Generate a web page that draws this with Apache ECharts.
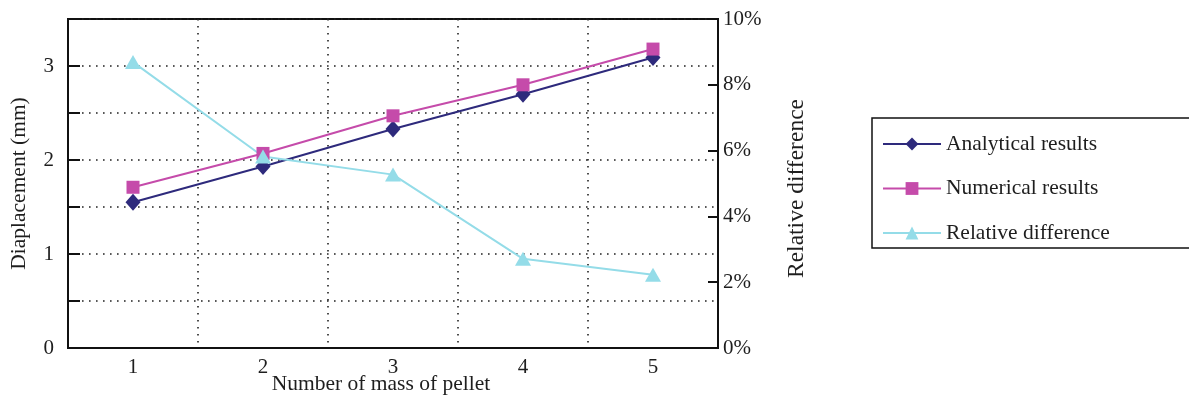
<!DOCTYPE html>
<html>
<head>
<meta charset="utf-8">
<script src="https://cdn.jsdelivr.net/npm/echarts@6/dist/echarts.min.js"></script>
<style>
  html, body { margin: 0; padding: 0; background: #fff; }
  #chart { width: 1189px; height: 398px; }
</style>
</head>
<body>
<div id="chart"></div>
<script>
// Pellet mass count vs. displacement, with relative difference on the right axis
const categories = ['1', '2', '3', '4', '5'];
const analytical = [1.55, 1.93, 2.33, 2.70, 3.09];
const numerical = [1.71, 2.07, 2.47, 2.80, 3.18];
const relativeDiff = [0.0869, 0.0582, 0.0527, 0.0271, 0.0223];

const FONT = 'Liberation Serif';
const INK = '#1e1e1e';
const dotted = { color: '#222', width: 1.6, type: [1.6, 5.4] };

const chart = echarts.init(document.getElementById('chart'));
chart.setOption({
  animation: false,
  textStyle: { fontFamily: FONT },
  grid: {
    left: 68, right: 471, top: 19, bottom: 50,
    outerBoundsMode: 'none',
    containLabel: false,
    show: true, borderColor: '#111', borderWidth: 2, backgroundColor: 'transparent'
  },
  legend: {
    orient: 'vertical',
    left: 872, top: 118,
    padding: [15, 81, 4, 10],
    borderColor: '#111', borderWidth: 1.5,
    itemWidth: 58, itemHeight: 16, itemGap: 22.5,
    textStyle: { fontFamily: FONT, fontSize: 21.5, color: INK },
    data: ['Analytical results', 'Numerical results', 'Relative difference']
  },
  xAxis: {
    type: 'category',
    data: categories,
    boundaryGap: true,
    name: 'Number of mass of pellet',
    nameLocation: 'middle',
    nameGap: 25,
    nameMoveOverlap: false,
    nameTextStyle: { fontFamily: FONT, fontSize: 21.5, color: INK, verticalAlign: 'top', padding: [0, 24, 0, 0] },
    axisLine: { lineStyle: { color: '#111', width: 2 } },
    axisTick: { inside: true, length: 8, lineStyle: { color: '#111', width: 2 } },
    axisLabel: { fontFamily: FONT, fontSize: 21, color: INK, margin: 9 },
    splitLine: { show: true, lineStyle: dotted }
  },
  yAxis: [
    {
      type: 'value',
      min: 0, max: 3.5, interval: 0.5,
      name: 'Diaplacement (mm)',
      nameLocation: 'middle',
      nameRotate: 90,
      nameGap: 38,
      nameTextStyle: { fontFamily: FONT, fontSize: 21.5, color: INK },
      axisLine: { show: true, lineStyle: { color: '#111', width: 2 } },
      axisTick: { show: true, inside: true, length: 12, lineStyle: { color: '#111', width: 2 } },
      axisLabel: {
        fontFamily: FONT, fontSize: 21, color: INK, margin: 14,
        formatter: v => (Math.abs(v - Math.round(v)) < 1e-9 ? String(Math.round(v)) : '')
      },
      splitLine: { show: true, lineStyle: dotted }
    },
    {
      type: 'value',
      min: 0, max: 0.1, interval: 0.02,
      position: 'right',
      name: 'Relative difference',
      nameLocation: 'middle',
      nameRotate: 90,
      nameGap: 67,
      nameTextStyle: { fontFamily: FONT, fontSize: 23.5, color: INK, padding: [0, 10, 0, 0] },
      axisLine: { show: true, lineStyle: { color: '#111', width: 2 } },
      axisTick: { show: true, inside: true, length: 10, lineStyle: { color: '#111', width: 2 } },
      axisLabel: {
        fontFamily: FONT, fontSize: 21, color: INK, margin: 5,
        formatter: v => Math.round(v * 100) + '%'
      },
      splitLine: { show: false }
    }
  ],
  series: [
    {
      name: 'Analytical results',
      type: 'line',
      data: analytical,
      symbol: 'diamond', symbolSize: [15, 17],
      lineStyle: { color: '#2E2A7C', width: 2 },
      itemStyle: { color: '#2E2A7C' }
    },
    {
      name: 'Numerical results',
      type: 'line',
      data: numerical,
      symbol: 'rect', symbolSize: 13,
      lineStyle: { color: '#C54BAA', width: 2 },
      itemStyle: { color: '#C54BAA' }
    },
    {
      name: 'Relative difference',
      type: 'line',
      yAxisIndex: 1,
      data: relativeDiff,
      symbol: 'triangle', symbolSize: [16, 14],
      lineStyle: { color: '#94DCE8', width: 2 },
      itemStyle: { color: '#94DCE8' }
    }
  ]
});
</script>
</body>
</html>
